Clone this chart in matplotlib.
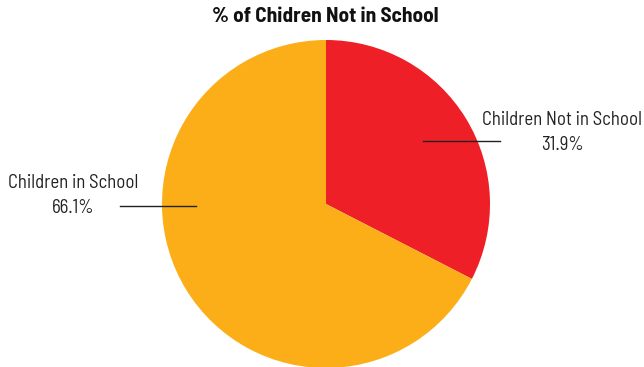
import matplotlib.pyplot as plt

# Dane
labels = ["Children Not in School", "Children in School"]
values = [31.9, 66.1]
pct_labels = ["31.9%", "66.1%"]
colors = ["#EE1F26", "#FBAE17"]
title = "% of Chidren Not in School"

plt.rcParams['font.family'] = ['Barlow Semi Condensed', 'DejaVu Sans']

fig = plt.figure(figsize=(6.44, 3.67), dpi=100)
W, H = 644, 367
cx, cy, r = 326, 204, 164
ax = fig.add_axes([(cx - r) / W, (H - cy - r) / H, 2 * r / W, 2 * r / H])

ax.pie(values, colors=colors, startangle=90, counterclock=False,
       radius=1, wedgeprops=dict(linewidth=0))
ax.set_xlim(-1, 1)
ax.set_ylim(-1, 1)
ax.set_aspect('equal')
ax.axis('off')


def px(x, y):
    # piksele -> wspolrzedne danych
    return (x - cx) / r, (cy - y) / r


# Linie prowadzace
for (x0, y0), (x1, y1) in [((423, 141), (500, 141)), ((120, 206), (196, 206))]:
    a, b = px(x0, y0)
    c, d = px(x1, y1)
    ax.plot([a, c], [b, d], color='#222222', lw=1, clip_on=False)

# Etykiety
for lab, pct, (x, y1, y2) in zip(labels, pct_labels, [(562, 120, 145), (73, 183, 208)]):
    ax.text(*px(x, y1), lab, ha='center', va='center', fontsize=13.5, color='#222222')
    ax.text(*px(x, y2), pct, ha='center', va='center', fontsize=13.5, color='#222222')

fig.text(325 / W, 1 - 17 / H, title, ha='center', va='center',
         fontsize=15.3, fontweight='bold', color='#111111')

fig.savefig("out.png", dpi=100)
